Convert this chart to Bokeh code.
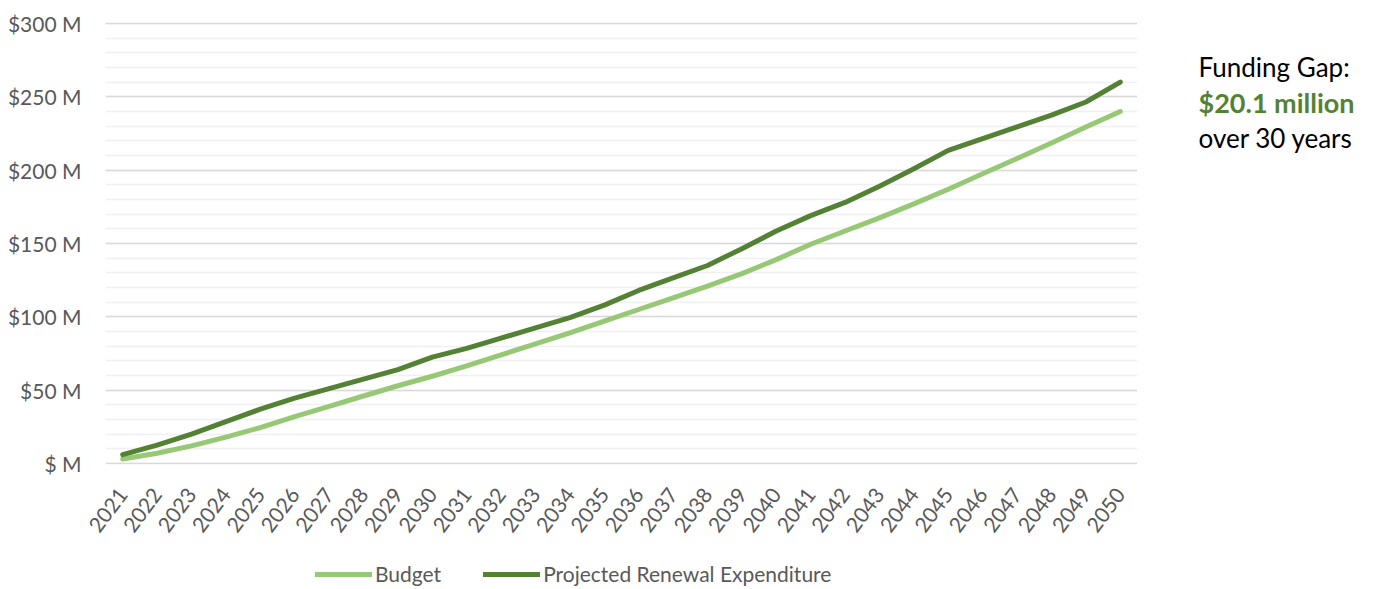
from bokeh.plotting import figure
from bokeh.layouts import row, column
from bokeh.models import (FactorRange, SingleIntervalTicker, Legend, LegendItem, Label)
from bokeh.embed import file_html
from bokeh.resources import INLINE

# Years and cumulative series ($ millions)
years = [str(y) for y in range(2021, 2051)]
budget = [3, 7, 12, 18, 24.5, 32, 39, 46, 53, 59.5,
          66.5, 74, 81.5, 89, 97, 105, 113, 121, 129.5, 139,
          149.5, 158.5, 167.5, 177, 187, 197.5, 208, 218.5, 229.5, 240]
projected = [6, 12.5, 20, 28.5, 37, 44.5, 51, 57.5, 64, 72.5,
             78.5, 85.5, 92.5, 99.5, 108, 118, 126.5, 135, 146.5, 158.5,
             169, 178, 189, 201, 213.5, 221.5, 229.5, 237.5, 246.5, 260.1]

y_ticks = [0, 50, 100, 150, 200, 250, 300]
y_tick_labels = ["$ M", "$50 M", "$100 M", "$150 M", "$200 M", "$250 M", "$300 M"]

series_names = ["Budget", "Projected Renewal Expenditure"]
gap_lines = ["Funding Gap:", "$20.1 million", "over 30 years"]

LIGHT = "#97C875"
DARK = "#548235"
FONT = "Lato"
LINE_W = 5
CHART_H = 550
TOP, BOTTOM = 22, 86


def style_line(fig, ys, color):
    return fig.line(years, ys, line_color=color, line_width=LINE_W,
                    line_join="round", line_cap="round")


# Main chart
p = figure(width=1137, height=CHART_H,
           x_range=FactorRange(factors=years, range_padding=0),
           y_range=(-0.7, 300.7),
           output_backend="svg", toolbar_location=None,
           min_border_left=105, min_border_right=0,
           min_border_top=TOP, min_border_bottom=BOTTOM)
p.outline_line_color = None

style_line(p, budget, LIGHT)
style_line(p, projected, DARK)

# Y axis: $ M labels with light minor grid every 10
p.yaxis.ticker = SingleIntervalTicker(interval=50, num_minor_ticks=5)
p.yaxis.major_label_overrides = {t: lab for t, lab in zip(y_ticks, y_tick_labels)}
p.yaxis.axis_line_color = None
p.yaxis.major_tick_line_color = None
p.yaxis.minor_tick_line_color = None
p.yaxis.major_label_standoff = 18
p.yaxis.major_label_text_font = FONT
p.yaxis.major_label_text_font_size = "21px"
p.yaxis.major_label_text_color = "#595959"

p.ygrid.grid_line_color = "#d9d9d9"
p.ygrid.grid_line_width = 1.5
p.ygrid.minor_grid_line_color = "#f0f0f0"
p.ygrid.minor_grid_line_width = 1.5
p.xgrid.grid_line_color = None

# X axis: rotated year labels
p.xaxis.axis_line_color = None
p.xaxis.major_tick_line_color = None
p.xaxis.minor_tick_line_color = None
p.xaxis.major_label_orientation = 0.93
p.xaxis.major_label_standoff = 20
p.xaxis.major_label_text_font = FONT
p.xaxis.major_label_text_font_size = "21px"
p.xaxis.major_label_text_color = "#595959"

# Funding gap note beside the chart
note = figure(width=247, height=CHART_H, x_range=(0, 1), y_range=(0, 1),
              output_backend="svg", toolbar_location=None,
              min_border_left=0, min_border_right=0,
              min_border_top=TOP, min_border_bottom=BOTTOM)
note.axis.visible = False
note.grid.visible = False
note.outline_line_color = None

frame_bottom = CHART_H - BOTTOM
note_baselines = [66, 102, 137]
note_colors = ["#000000", DARK, "#000000"]
note_styles = ["normal", "bold", "normal"]
note_sizes = ["26px", "27px", "26px"]
for txt, base, col, st, sz in zip(gap_lines, note_baselines, note_colors,
                                  note_styles, note_sizes):
    note.add_layout(Label(x=61, y=frame_bottom - base, x_units="screen", y_units="screen",
                          text=txt, text_font=FONT, text_font_size=sz,
                          text_color=col, text_font_style=st,
                          text_baseline="alphabetic", text_align="left"))

# Legend strip under the chart; its lines carry the same series but sit out of view
leg = figure(width=1384, height=589 - CHART_H,
             x_range=FactorRange(factors=years, range_padding=0),
             y_range=(1000, 1001),
             output_backend="svg", toolbar_location=None, min_border=0)
leg.axis.visible = False
leg.grid.visible = False
leg.outline_line_color = None
leg_b = style_line(leg, budget, LIGHT)
leg_p = style_line(leg, projected, DARK)

legend = Legend(items=[LegendItem(label=series_names[0], renderers=[leg_b]),
                       LegendItem(label=series_names[1], renderers=[leg_p])],
                orientation="horizontal", location=(315, 3),
                glyph_width=57, glyph_height=20, label_standoff=3, spacing=42,
                padding=0, margin=0, border_line_color=None,
                background_fill_alpha=0,
                label_text_font=FONT, label_text_font_size="21px",
                label_text_color="#595959")
leg.add_layout(legend, "center")

layout = column(row(p, note, spacing=0), leg, spacing=0)

open("out.html", "w").write(file_html(layout, INLINE))
